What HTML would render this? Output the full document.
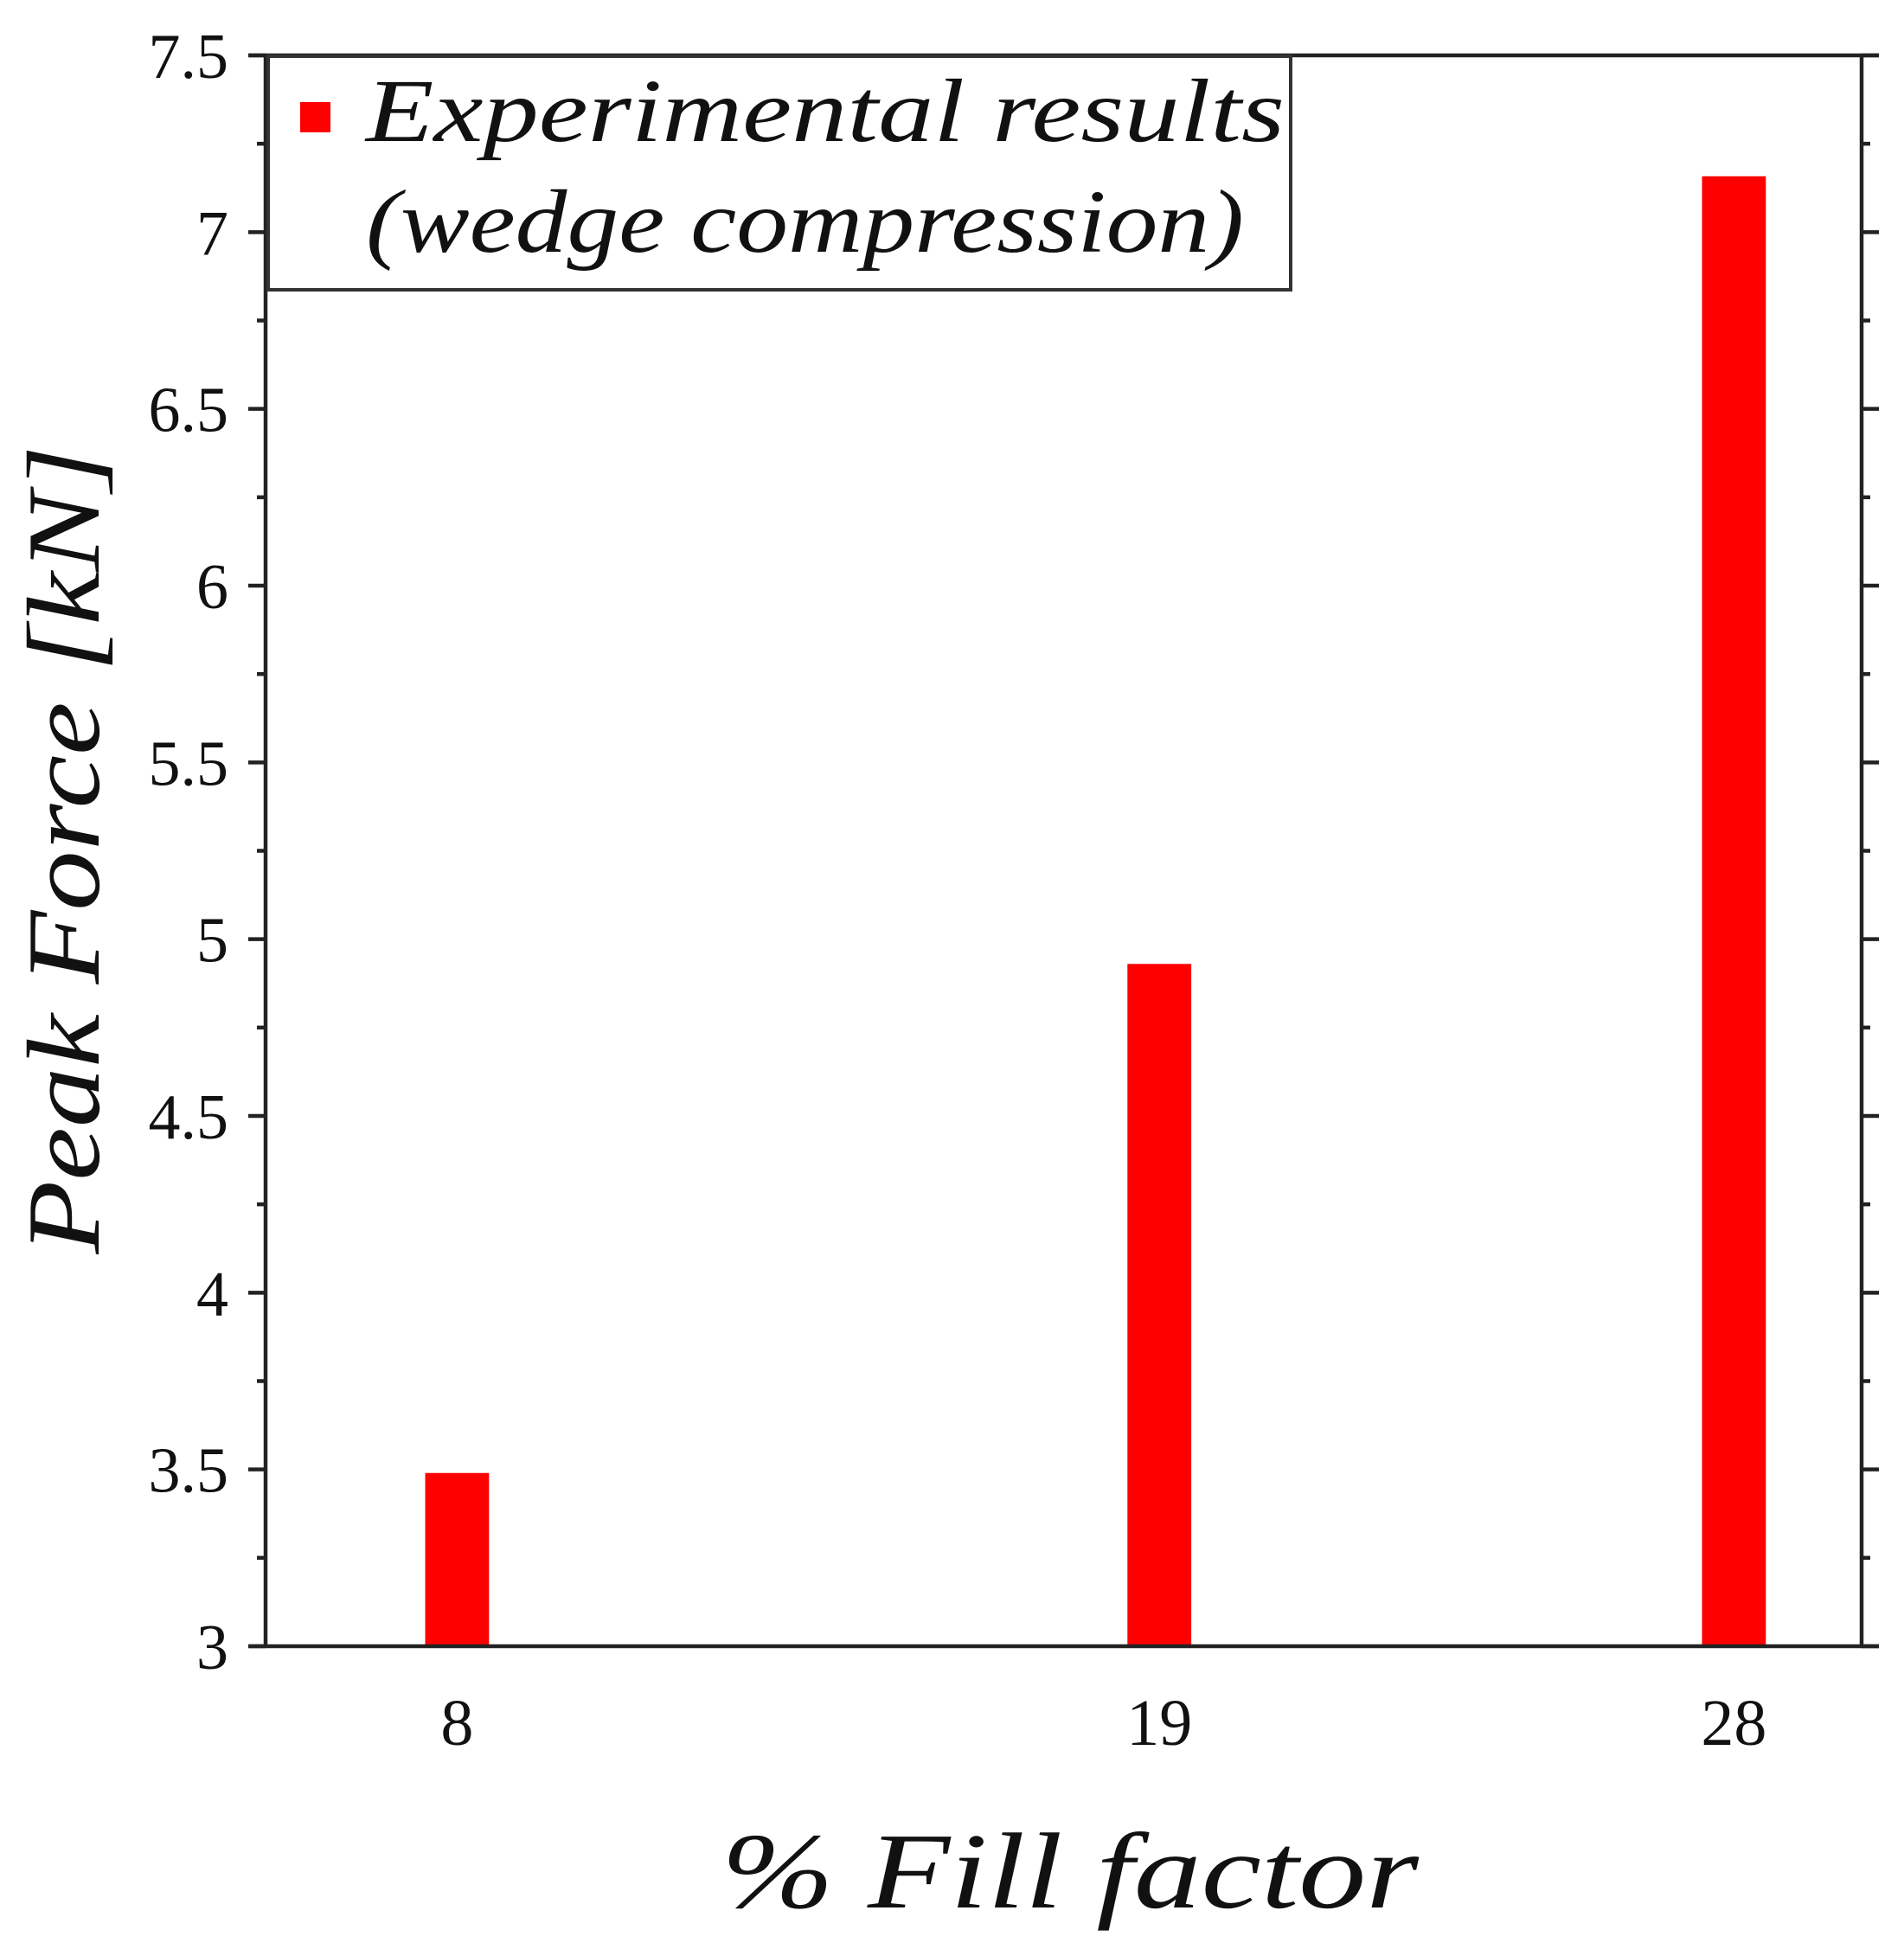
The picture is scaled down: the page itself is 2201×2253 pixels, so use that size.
<!DOCTYPE html>
<html><head><meta charset="utf-8"><style>html,body{margin:0;padding:0;background:#fff}svg{display:block}text{font-family:"Liberation Serif",serif;fill:#111}</style></head>
<body>
<svg id="chart" width="2201" height="2253" viewBox="0 0 2201 2253" xmlns="http://www.w3.org/2000/svg">
<g id="marks"></g>
<g id="axes"></g>
<g>
<rect x="310" y="65" width="1182" height="270" fill="#fff" stroke="#333" stroke-width="4"/>
<rect x="347" y="118" width="35" height="35" fill="#ff0000"/>
<text x="423" y="163" font-size="104" font-style="italic" textLength="1062" lengthAdjust="spacingAndGlyphs">Experimental results</text>
<text x="423" y="291" font-size="104" font-style="italic" textLength="1015" lengthAdjust="spacingAndGlyphs">(wedge compression)</text>
</g>
<text transform="translate(114,982) rotate(-90)" text-anchor="middle" font-size="120" font-style="italic" textLength="935" lengthAdjust="spacingAndGlyphs">Peak Force [kN]</text>
<text x="1237" y="2205" text-anchor="middle" font-size="125" font-style="italic" textLength="806" lengthAdjust="spacingAndGlyphs">% Fill factor</text>
</svg>
<script>
const categories = [8, 19, 28];
const peakForce = [3.49, 4.93, 7.158];
const yTicks = [3, 3.5, 4, 4.5, 5, 5.5, 6, 6.5, 7, 7.5];
const yTickLabels = ["3", "3.5", "4", "4.5", "5", "5.5", "6", "6.5", "7", "7.5"];

const NS = "http://www.w3.org/2000/svg";
const L = 307, R = 2152, T = 64, B = 1903;
const xMin = 5, xMax = 30, yMin = 3, yMax = 7.5;
function xs(v){ return L + (v - xMin) / (xMax - xMin) * (R - L); }
function ys(v){ return B - (v - yMin) / (yMax - yMin) * (B - T); }
function mk(tag, attrs, parent){ const e = document.createElementNS(NS, tag); for (const k in attrs) e.setAttribute(k, attrs[k]); parent.appendChild(e); return e; }

const marks = document.getElementById('marks');
categories.forEach((c, i) => {
  const x0 = xs(c - 0.5), x1 = xs(c + 0.5);
  const r = mk('rect', {x: x0, y: ys(peakForce[i]), width: x1 - x0, height: B - ys(peakForce[i]), fill: '#ff0000'}, marks);
  
  
  const t = mk('text', {x: xs(c), y: 2017, 'text-anchor': 'middle', 'font-size': 76}, marks);
  t.textContent = String(c);
  
  
});

const axes = document.getElementById('axes');
const st = {stroke: '#222', 'stroke-width': 4.5};
const frame = [[288, T, 2172, T], [288, B, 2172, B], [L, T, L, B], [R, T, R, B]];
frame.forEach((f, i) => {
  const l = mk('line', Object.assign({x1: f[0], y1: f[1], x2: f[2], y2: f[3]}, st), axes);
  
  
});
for (let v = yMin; v <= yMax + 1e-9; v += 0.25) {
  const major = Math.abs(v * 2 - Math.round(v * 2)) < 1e-6;
  const len = major ? 20 : 10;
  const y = ys(v);
  const a = mk('line', Object.assign({x1: L - len, y1: y, x2: L, y2: y}, st), axes);
  
  
  const b = mk('line', Object.assign({x1: R, y1: y, x2: R + len, y2: y}, st), axes);
  
  
}
yTicks.forEach((v, i) => {
  const t = mk('text', {x: 264, y: ys(v) + 26, 'text-anchor': 'end', 'font-size': 74}, axes);
  t.textContent = yTickLabels[i];
  
  
});
</script>
</body></html>
